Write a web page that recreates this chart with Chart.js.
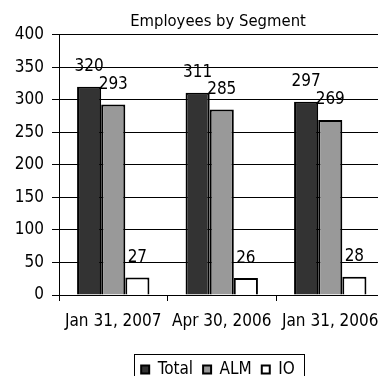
<!DOCTYPE html>
<html>
<head>
<meta charset="utf-8">
<script src="https://cdn.jsdelivr.net/npm/chart.js@4"></script>
<style>
html, body { margin: 0; padding: 0; background: #fff; overflow: hidden; }
#wrap { position: relative; width: 436px; height: 388px; }
</style>
</head>
<body>
<div id="wrap"><canvas id="myChart"></canvas></div>
<script>
/* DATOS */
const periods = ["Jan 31, 2007", "Apr 30, 2006", "Jan 31, 2006"];
const totalValues = [320, 311, 297];
const almValues = [293, 285, 269];
const ioValues = [27, 26, 28];
const seriesNames = ["Total", "ALM", "IO"];
const yMin = 0;
const yMax = 400;
const yStep = 50;

const fontFamily = "'DejaVu Sans Condensed', 'DejaVu Sans', sans-serif";

/* ETIQUETAS SOBRE LAS BARRAS */
const barLabels = {
  id: "barLabels",
  afterDatasetsDraw(chart) {
    const ctx = chart.ctx;
    ctx.save();
    ctx.font = "17px " + fontFamily;
    ctx.fillStyle = "#000";
    ctx.textAlign = "center";
    ctx.textBaseline = "middle";
    chart.data.datasets.forEach((ds, i) => {
      chart.getDatasetMeta(i).data.forEach((bar, j) => {
        ctx.fillText(ds.data[j], bar.x, bar.y - 20);
      });
    });
    ctx.restore();
  }
};

/* MARCO DE LA LEYENDA */
const legendBorder = {
  id: "legendBorder",
  afterDraw(chart) {
    const boxes = chart.legend.legendHitBoxes;
    if (!boxes || !boxes.length) return;
    const first = boxes[0];
    const last = boxes[boxes.length - 1];
    const ctx = chart.ctx;
    ctx.save();
    ctx.strokeStyle = "#000";
    ctx.lineWidth = 1;
    const left = Math.round(first.left - 7) + 0.5;
    const right = Math.round(last.left + last.width + 9) + 0.5;
    const top = Math.round(first.top - 7) + 0.5;
    ctx.strokeRect(left, top, right - left, 40);
    ctx.restore();
  }
};

const config = {
  type: "bar",
  data: {
    labels: periods,
    datasets: [
      { label: seriesNames[0], data: totalValues, backgroundColor: "#333333", borderColor: "#000", borderWidth: 2 },
      { label: seriesNames[1], data: almValues, backgroundColor: "#999999", borderColor: "#000", borderWidth: 2 },
      { label: seriesNames[2], data: ioValues, backgroundColor: "#ffffff", borderColor: "#000", borderWidth: 2 }
    ]
  },
  options: {
    responsive: true,
    maintainAspectRatio: false,
    animation: false,
    devicePixelRatio: 1,
    layout: { padding: 0 },
    datasets: {
      bar: { categoryPercentage: 0.667, barPercentage: 1 }
    },
    plugins: {
      title: {
        display: true,
        text: "Employees by Segment",
        color: "#000",
        font: { family: fontFamily, size: 16.5, weight: "normal" },
        padding: { top: 11.5, bottom: 3.5 }
      },
      legend: {
        position: "bottom",
        labels: {
          color: "#000",
          font: { family: fontFamily, size: 17 },
          boxWidth: 8,
          boxHeight: 8,
          padding: 10
        }
      },
      tooltip: { enabled: false }
    },
    scales: {
      x: {
        afterFit(scale) { scale.height = 56; },
        grid: { offset: true, drawOnChartArea: false, drawTicks: true, tickLength: 6, color: "#000" },
        border: { color: "#000", width: 1 },
        ticks: { color: "#000", font: { family: fontFamily, size: 17 }, padding: 10, maxRotation: 0, autoSkip: false }
      },
      y: {
        min: yMin,
        max: yMax,
        afterFit(scale) { scale.width = 59; },
        grid: { color: "#000", tickLength: 7, drawTicks: true },
        border: { color: "#000", width: 1 },
        ticks: { stepSize: yStep, color: "#000", font: { family: fontFamily, size: 17 }, padding: 8 }
      },
      /* EJE VACIO A LA DERECHA: reserva el espacio que el grafico corta */
      spacer: {
        type: "linear",
        axis: "y",
        position: "right",
        afterFit(scale) { scale.width = 51.5; },
        grid: { display: false },
        border: { display: false },
        ticks: { display: false }
      }
    }
  },
  plugins: [barLabels, legendBorder]
};

const chart = new Chart(document.getElementById("myChart"), config);
</script>
</body>
</html>
